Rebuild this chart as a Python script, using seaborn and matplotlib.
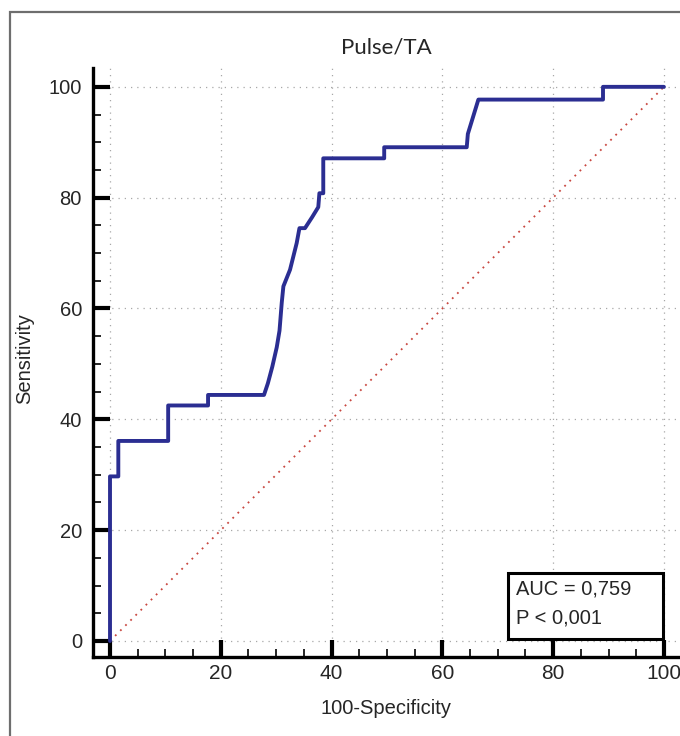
import numpy as np
import pandas as pd
import matplotlib
matplotlib.use("Agg")
import matplotlib.pyplot as plt
from matplotlib.patches import Rectangle
from matplotlib.ticker import MultipleLocator
import seaborn as sns

# ---- data ----
fpr = [0, 0, 1.5, 1.5, 10.5, 10.5, 17.7, 17.7, 27.8, 28.5, 29.3, 30.1, 30.6, 31.0,
       31.3, 32.5, 33.7, 34.2, 35.2, 36.5, 37.6, 37.8, 38.5, 38.5, 49.5, 49.5,
       64.4, 64.6, 66.5, 89.0, 89.0, 100]
tpr = [0, 29.7, 29.7, 36.1, 36.1, 42.5, 42.5, 44.4, 44.4, 46.5, 49.5, 53.0, 56.0, 61.0,
       64.0, 67.0, 71.8, 74.5, 74.5, 76.5, 78.3, 80.8, 80.8, 87.1, 87.1, 89.1,
       89.1, 91.5, 97.7, 97.7, 100, 100]
diag_x = [0, 100]
diag_y = [0, 100]
ticks = [0, 20, 40, 60, 80, 100]
title = "Pulse/TA"
xlabel = "100-Specificity"
ylabel = "Sensitivity"
auc_text = "AUC = 0,759"
p_text = "P < 0,001"

sns.set_theme(style="white")
plt.rcParams["font.family"] = ["Liberation Sans", "DejaVu Sans"]

W, H = 680, 736
fig = plt.figure(figsize=(W / 100, H / 100), dpi=100)
ax = fig.add_axes([93 / W, 1 - 657 / H, (680 - 93) / W, (657 - 68) / H])

# outer frame
fig.patches.append(Rectangle((10 / W, -0.1), 1.2, (1 - 12 / H) + 0.1,
                             transform=fig.transFigure, fill=False,
                             edgecolor="#6e6e6e", lw=1.6, zorder=0))

# grid
for t in ticks:
    ax.axvline(t, color="#a8a8a8", lw=0.9, ls=(0, (1, 4)), zorder=0.5)
    ax.axhline(t, color="#a8a8a8", lw=0.9, ls=(0, (1, 4)), zorder=0.5)

df_roc = pd.DataFrame({"fpr": fpr, "tpr": tpr})
df_diag = pd.DataFrame({"x": diag_x, "y": diag_y})
sns.lineplot(data=df_diag, x="x", y="y", ax=ax, color="#c8463f", lw=1.3,
             linestyle=(0, (1, 3)), sort=False, estimator=None, zorder=2)
sns.lineplot(data=df_roc, x="fpr", y="tpr", ax=ax, color="#2b2e92", lw=2.8,
             sort=False, estimator=None, zorder=4)

ax.set_xlim(-3.07, 102.9)
ax.set_ylim(-2.89, 103.4)

for s in ["top", "right"]:
    ax.spines[s].set_visible(False)
for s in ["left", "bottom"]:
    ax.spines[s].set_linewidth(2.4)
    ax.spines[s].set_color("black")

ax.set_xticks(ticks)
ax.set_yticks(ticks)
ax.xaxis.set_minor_locator(MultipleLocator(5))
ax.yaxis.set_minor_locator(MultipleLocator(5))
ax.tick_params(which="major", direction="in", length=12, width=3, color="black",
               bottom=True, left=True)
ax.tick_params(which="minor", direction="in", length=6, width=1.2, color="black",
               bottom=True, left=True)
ax.tick_params(axis="x", which="major", labelsize=15, pad=5)
ax.tick_params(axis="y", which="major", labelsize=14.5, pad=8)

ax.set_xlabel("")
ax.set_ylabel("")
fig.text(386 / W, 1 - 708 / H, xlabel, ha="center", va="center", fontsize=14.5)
fig.text(25 / W, 1 - 359 / H, ylabel, ha="center", va="center", fontsize=14.5,
         rotation=90)
fig.text(386 / W, 1 - 47 / H, title, ha="center", va="center", fontsize=16,
         family=["Lato", "DejaVu Sans"])

# AUC box
ax.add_patch(Rectangle((71.8, 0.3), 28.0, 12.0, fill=True, facecolor="white",
                       edgecolor="black", lw=2.2, zorder=5))
ax.text(73.3, 9.3, auc_text, fontsize=14.5, ha="left", va="center", zorder=6)
ax.text(73.3, 4.2, p_text, fontsize=14.5, ha="left", va="center", zorder=6)

fig.savefig("out.png", dpi=100)
